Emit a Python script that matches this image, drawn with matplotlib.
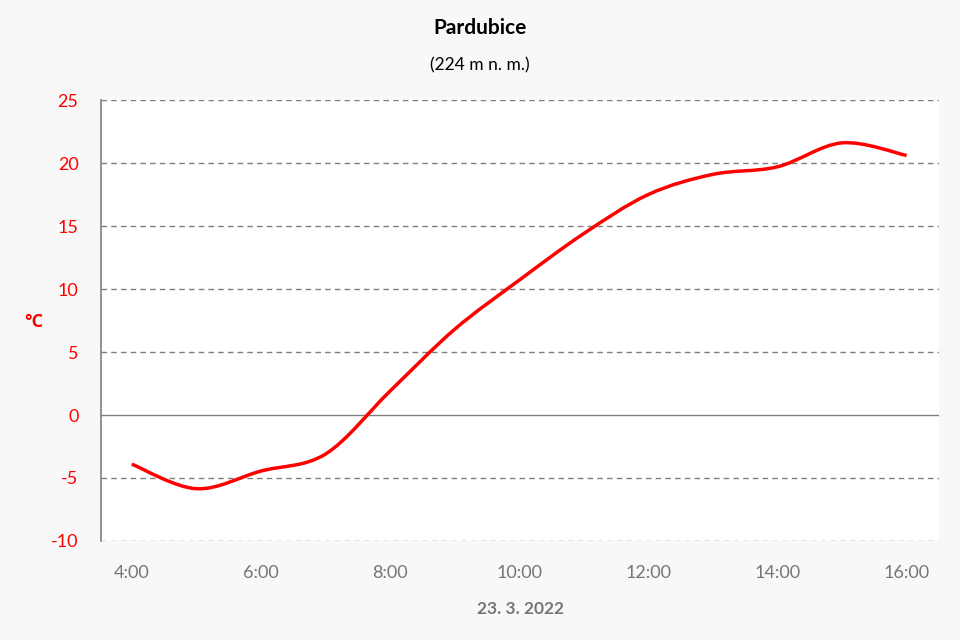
import numpy as np
import matplotlib
matplotlib.use('Agg')
import matplotlib.pyplot as plt
from matplotlib.path import Path
from matplotlib.patches import PathPatch

plt.rcParams['font.family'] = ['Lato', 'DejaVu Sans']
plt.rcParams['axes.unicode_minus'] = False

# hodinová data, Pardubice 23. 3. 2022
hours = [4, 5, 6, 7, 8, 9, 10, 11, 12, 13, 14, 15, 16]
temps = [-3.9, -5.85, -4.45, -3.1, 1.9, 6.8, 10.7, 14.4, 17.5, 19.1, 19.7, 21.6, 20.6]
tick_hours = [4, 6, 8, 10, 12, 14, 16]
tick_labels = ['4:00', '6:00', '8:00', '10:00', '12:00', '14:00', '16:00']
y_ticks = [-10, -5, 0, 5, 10, 15, 20, 25]

fig = plt.figure(figsize=(9.6, 6.4), dpi=100, facecolor='#f8f8f8')
ax = fig.add_axes([0.105, 0.1547, 0.873, 0.689])
ax.set_facecolor('white')

# vyhlazená čára jako v Excelu (Bezierovy křivky)
pts = np.column_stack([hours, temps])
verts = [pts[0]]
codes = [Path.MOVETO]
n = len(pts)
for i in range(n - 1):
    p0 = pts[max(i - 1, 0)]
    p1 = pts[i]
    p2 = pts[i + 1]
    p3 = pts[min(i + 2, n - 1)]
    c1 = p1 + (p2 - p0) / 6.0
    c2 = p2 - (p3 - p1) / 6.0
    verts += [c1, c2, p2]
    codes += [Path.CURVE4] * 3
ax.add_patch(PathPatch(Path(verts, codes), fill=False, edgecolor='#ff0000', linewidth=2.5, zorder=3, capstyle='butt'))

ax.set_xlim(3.52, 16.5)
ax.set_ylim(-10, 25)
ax.set_yticks(y_ticks)
ax.set_xticks(tick_hours)
ax.set_xticklabels(tick_labels)

for y in y_ticks:
    if y == 0:
        ax.axhline(y, color='#7f7f7f', linewidth=1.0, zorder=2)
    else:
        ax.axhline(y, color='#7f7f7f', linewidth=1.0, linestyle=(0, (4, 3)), zorder=1)

for s in ['top', 'right', 'bottom']:
    ax.spines[s].set_visible(False)
ax.spines['left'].set_color('#7f7f7f')
ax.spines['left'].set_linewidth(1.2)

ax.tick_params(axis='both', length=0)
ax.tick_params(axis='y', colors='#ff0000', labelsize=13, pad=16)
ax.tick_params(axis='x', colors='#767676', labelsize=13, pad=17)

fig.text(0.5, 0.956, 'Pardubice', ha='center', va='center', fontsize=15, fontweight='bold', color='black')
fig.text(0.5, 0.898, '(224 m n. m.)', ha='center', va='center', fontsize=12.5, color='black')
fig.text(0.035, 0.497, '°C', ha='center', va='center', fontsize=13, fontweight='bold', color='#ff0000',
         family=['Open Sans', 'DejaVu Sans'])
fig.text(0.542, 0.048, '23. 3. 2022', ha='center', va='center', fontsize=12.5, fontweight='bold', color='#767676')

fig.savefig('out.png', dpi=100, facecolor=fig.get_facecolor())
